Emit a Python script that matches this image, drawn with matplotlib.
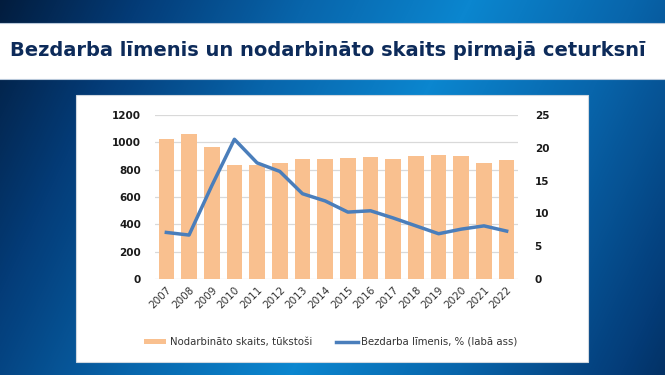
import numpy as np
import matplotlib
matplotlib.use("Agg")
import matplotlib.pyplot as plt
from matplotlib.patches import Rectangle
from matplotlib.colors import LinearSegmentedColormap

years = ["2007", "2008", "2009", "2010", "2011", "2012", "2013", "2014",
         "2015", "2016", "2017", "2018", "2019", "2020", "2021", "2022"]
employed = [1022, 1059, 968, 832, 834, 851, 880, 880,
            885, 890, 880, 897, 905, 900, 851, 868]
unemployment = [7.1, 6.7, 14.2, 21.3, 17.7, 16.4, 13.0, 11.9,
                10.2, 10.4, 9.3, 8.1, 6.9, 7.6, 8.1, 7.3]

title = "Bezdarba līmenis un nodarbināto skaits pirmajā ceturksnī"
label_bars = "Nodarbināto skaits, tūkstoši"
label_line = "Bezdarba līmenis, % (labā ass)"

W, H = 665, 375
fig = plt.figure(figsize=(W / 100, H / 100), dpi=100)

# background gradient
bg = fig.add_axes([0, 0, 1, 1])
yy, xx = np.mgrid[0:H, 0:W]
s = ((xx - 470) * 375 + yy * 180) / 416.0
d = np.clip(np.abs(s) / 450.0, 0, 1)
cmap = LinearSegmentedColormap.from_list(
    "bg", [(0, "#0b86cf"), (0.33, "#0865ab"), (0.66, "#043c78"), (1, "#021632")])
bg.imshow(d, cmap=cmap, vmin=0, vmax=1, aspect="auto", extent=[0, W, H, 0],
          interpolation="bilinear")
bg.set_xlim(0, W)
bg.set_ylim(H, 0)
bg.axis("off")

# title bar
bg.add_patch(Rectangle((-2, 23), W + 4, 56, facecolor="white", edgecolor="#b8c8da", lw=0.8))
bg.text(328, 51, title, ha="center", va="center", fontsize=14,
        fontweight="bold", color="#0d2b5a", family="DejaVu Sans")

# chart panel
bg.add_patch(Rectangle((75.5, 94.5), 512, 267.5, facecolor="white", edgecolor="#d0d8e0", lw=0.8))

ax = fig.add_axes([155 / W, 1 - 279 / H, (518 - 155) / W, (279 - 115) / H])
ax.set_facecolor("none")
x = np.arange(len(years))
bars = ax.bar(x, employed, width=0.69, color="#f9c08f", zorder=2, label=label_bars)
ax.set_xlim(-0.5, len(years) - 0.5)
ax.set_ylim(0, 1200)
ax.set_yticks(range(0, 1201, 200))
ax.grid(axis="y", color="#d9d9d9", lw=0.9, zorder=0)
ax.set_axisbelow(True)
for sp in ax.spines.values():
    sp.set_visible(False)
ax.tick_params(axis="both", length=0)
ax.tick_params(axis="y", pad=10)
for t in ax.get_yticklabels():
    t.set_fontweight("bold")
    t.set_fontsize(7.5)
    t.set_color("#1a1a1a")
ax.set_xticks(x)
ax.set_xticklabels(years, rotation=45, ha="right", rotation_mode="anchor",
                   fontsize=7.5, color="#333333")
ax.tick_params(axis="x", pad=4)

ax2 = ax.twinx()
ax2.set_ylim(0, 25)
ax2.set_yticks(range(0, 26, 5))
line, = ax2.plot(x, unemployment, color="#4a7ebb", lw=2.5, zorder=3,
                 solid_joinstyle="round", label=label_line)
for sp in ax2.spines.values():
    sp.set_visible(False)
ax2.tick_params(axis="y", length=0, pad=12)
for t in ax2.get_yticklabels():
    t.set_fontweight("bold")
    t.set_fontsize(7.5)
    t.set_color("#1a1a1a")

fig.legend([bars, line], [label_bars, label_line], loc="center",
           bbox_to_anchor=(331 / W, 1 - 342 / H), ncol=2, frameon=False,
           fontsize=7.3, handlelength=2.2, handleheight=0.5, columnspacing=2.4,
           handletextpad=0.3, labelcolor="#333333")

fig.savefig("out.png", dpi=100)
